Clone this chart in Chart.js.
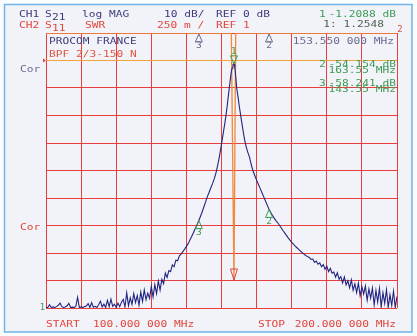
<!DOCTYPE html>
<html><head><meta charset="utf-8">
<script src="https://cdn.jsdelivr.net/npm/chart.js@4.4.0/dist/chart.umd.min.js"></script>
<style>html,body{margin:0;padding:0;background:#f9fafd;}#wrap{width:417px;height:336px;position:relative}</style>
</head><body><div id="wrap"><canvas id="c" width="417" height="336"></canvas></div>
<script>
// CH1 S21 log MAG sweep (MHz) and values (dB)
const sweepMHz = [
100,100.5,101,101.5,102,102.5,103,103.5,104,104.5,105,105.5,106,106.5,107,107.5,108,108.5,109,109.5,
110,110.5,111,111.5,112,112.5,113,113.5,114,114.5,115,115.5,116,116.5,117,117.5,118,118.5,119,119.5,
120,120.5,121,121.5,122,122.5,123,123.5,124,124.5,125,125.5,126,126.5,127,127.5,128,128.5,129,129.5,
130,130.5,131,131.5,132,132.5,133,133.5,134,134.5,135,135.5,136,136.5,137,137.5,138,138.5,139,139.5,
140,140.5,141,141.5,142,142.5,143,143.5,144,144.5,145,145.5,146,146.5,147,147.5,148,148.5,149,149.5,
150,150.5,151,151.5,152,152.5,152.75,153,153.25,153.45,153.6,153.8,154.05,154.35,154.75,155,155.5,
156,156.5,157,157.5,158,158.5,159,159.5,160,160.5,161,161.5,162,162.5,163,163.5,164,164.5,165,165.5,
166,166.5,167,167.5,168,168.5,169,169.5,170,170.5,171,171.5,172,172.5,173,173.5,174,174.5,
175,175.5,176,176.5,177,177.5,178,178.5,179,179.5,180,180.5,181,181.5,182,182.5,183,183.5,184,184.5,
185,185.5,186,186.5,187,187.5,188,188.5,189,189.5,190,190.5,191,191.5,192,192.5,193,193.5,194,194.5,
195,195.5,196,196.5,197,197.5,198,198.5,199,199.5,200];
const s21dB = [
-89.8,-89.8,-88.8,-89.8,-89.6,-89.8,-89.5,-89.0,-88.2,-89.5,-89.8,-89.6,-89.2,-88.3,-89.8,-89.7,-89.8,-89.4,-86.1,-89.8,
-89.6,-89.8,-89.5,-89.3,-88.4,-89.8,-88.0,-89.7,-89.4,-89.8,-88.8,-87.5,-89.6,-88.6,-89.8,-87.2,-89.5,-86.8,-89.4,-88.6,
-89.8,-88.2,-89.5,-87.9,-86.9,-89.6,-84.5,-89.2,-86.3,-88.7,-84.8,-88.0,-85.5,-89.0,-84.2,-87.6,-83.4,-87.0,-84.6,-86.5,
-82.2,-86.0,-81.5,-84.8,-80.2,-83.5,-79.6,-81.2,-77.3,-78.9,-76.4,-76.8,-74.3,-75.0,-72.6,-72.8,-71.0,-70.4,-69.5,-68.6,
-67.6,-66.6,-65.3,-64.0,-62.6,-61.2,-59.8,-58.3,-56.7,-55.0,-53.2,-51.3,-49.4,-47.8,-46.2,-44.6,-42.8,-40.5,-37.6,-34.2,
-30.4,-26.4,-22.4,-17.8,-12.3,-7.0,-4.5,-2.8,-1.7,-1.2,-1.4,-2.6,-5.8,-10.2,-13.6,-16.0,-20.3,
-24.3,-28.3,-31.2,-33.4,-35.2,-38.0,-40.2,-41.9,-43.5,-45.0,-46.5,-48.0,-49.5,-51.0,-52.5,-54.0,-55.2,-56.3,-57.3,-58.2,
-59.0,-59.9,-60.8,-61.8,-62.7,-63.6,-64.5,-65.3,-66.1,-66.8,-67.5,-68.1,-68.7,-69.3,-69.9,-70.4,-70.9,-71.3,
-71.6,-72.3,-72.2,-73.4,-72.9,-74.1,-73.6,-75.0,-74.2,-75.9,-74.8,-76.8,-75.6,-77.3,-76.9,-78.8,-77.2,-79.5,-78.6,-80.9,
-78.7,-81.6,-80.1,-82.7,-79.8,-83.5,-81.2,-84.4,-81.0,-85.6,-82.3,-84.9,-82.0,-87.2,-83.1,-86.4,-82.7,-88.9,-83.6,-87.8,
-82.9,-89.6,-84.4,-88.3,-83.3,-89.8,-85.2,-89.1,-83.9,-89.8,-85.8];

// CH2 S11 SWR trace (off-band values sit at the top of the 250 m/div scale)
const swrMHz = [100, 152.8, 153.55, 154.05, 200];
const swrVal = [3.5, 3.5, 1.2548, 3.5, 3.5];

// Markers
const ch1MkMHz = [153.55, 163.55, 143.55];
const ch1MkdB  = [-1.2088, -54.154, -58.241];
const ch2MkMHz = [153.55, 163.55, 143.55];
const ch2MkSWR = [1.2548, 3.5, 3.5];

const FONT = '8px "DejaVu Sans Mono"';
function T(ctx, s, x, y, col, align, sx) {
  ctx.save(); ctx.translate(x, y); ctx.scale(sx || 1.4, 1);
  ctx.font = FONT; ctx.fillStyle = col; ctx.textBaseline = 'middle';
  ctx.textAlign = align || 'left'; ctx.fillText(s, 0, 0); ctx.restore();
}
function upTri(ctx, x, y, col, lab) {
  ctx.save(); ctx.strokeStyle = col; ctx.lineWidth = 1;
  ctx.beginPath(); ctx.moveTo(x, y); ctx.lineTo(x - 3.5, y + 8); ctx.lineTo(x + 3.5, y + 8); ctx.closePath(); ctx.stroke();
  ctx.restore();
  T(ctx, lab, x, y + 12, col, 'center', 1.2);
}
function downTri(ctx, x, y, col, lab, h) {
  h = h || 9;
  ctx.save(); ctx.strokeStyle = col; ctx.lineWidth = 1;
  ctx.beginPath(); ctx.moveTo(x, y); ctx.lineTo(x - 3.5, y - h); ctx.lineTo(x + 3.5, y - h); ctx.closePath(); ctx.stroke();
  ctx.restore();
  if (lab) T(ctx, lab, x, y - h - 4, col, 'center', 1.2);
}

const deco = {
  id: 'deco',
  beforeDraw(chart) {
    const ctx = chart.ctx;
    ctx.save();
    ctx.fillStyle = '#fbfcfe'; ctx.fillRect(0, 0, 417, 336);
    ctx.fillStyle = '#f2f3f8'; ctx.fillRect(5, 5, 407, 327);
    ctx.strokeStyle = '#6fb4ea'; ctx.lineWidth = 1.5; ctx.strokeRect(4.5, 4.5, 407.5, 327.5);
    ctx.restore();
  },
  afterDraw(chart) {
    const ctx = chart.ctx, xs = chart.scales.x, ys = chart.scales.y, y2 = chart.scales.y2;
    const navy = '#3b3b7c', red = '#e2463c', green = '#3f9a55', gray = '#6a6a90';
    // header
    T(ctx, 'CH1', 19, 15, navy); T(ctx, 'S', 45, 15, navy); T(ctx, '21', 52, 18, navy);
    T(ctx, 'log MAG', 82, 15, navy); T(ctx, '10 dB/', 164, 15, navy); T(ctx, 'REF 0 dB', 216, 15, navy);
    T(ctx, '1', 319, 15, green); T(ctx, '-1.2088 dB', 396, 15, green, 'right');
    T(ctx, 'CH2', 19, 26, red); T(ctx, 'S', 45, 26, red); T(ctx, '11', 52, 29, red);
    T(ctx, 'SWR', 85, 26, red); T(ctx, '250 m /', 157, 26, red); T(ctx, 'REF 1', 216, 26, red);
    T(ctx, '1: 1.2548', 384, 25, '#4d5f50', 'right');
    // inside annotations
    T(ctx, 'PROCOM FRANCE', 49, 41.5, navy);
    T(ctx, 'BPF 2/3-150 N', 49, 55, '#e4553c');
    T(ctx, '153.550 000 MHz', 394, 41.5, gray, 'right');
    T(ctx, '2', 319, 65, green); T(ctx, '-54.154 dB', 396, 65, green, 'right');
    T(ctx, '163.55 MHz', 396, 71, green, 'right');
    T(ctx, '3', 319, 84, green); T(ctx, '-58.241 dB', 396, 84, green, 'right');
    T(ctx, '143.55 MHz', 396, 90, green, 'right');
    T(ctx, 'Cor', 20, 70, gray); T(ctx, 'Cor', 20, 228, red);
    T(ctx, 'START', 46, 325, red); T(ctx, '100.000 000 MHz', 93, 325, red);
    T(ctx, 'STOP', 258, 325, red); T(ctx, '200.000 000 MHz', 396, 325, red, 'right');
    // reference pointers
    T(ctx, '1', 45, 308, green, 'right', 1.1);
    ctx.save(); ctx.fillStyle = red; ctx.beginPath();
    const r0 = ys.getPixelForValue(0);
    ctx.moveTo(43, r0 - 2); ctx.lineTo(46, r0); ctx.lineTo(43, r0 + 2); ctx.closePath(); ctx.fill(); ctx.restore();
    T(ctx, '2', 400, 30, red, 'center', 1.1);
    // CH2 markers
    for (let i = 1; i < 3; i++) upTri(ctx, xs.getPixelForValue(ch2MkMHz[i]), y2.getPixelForValue(ch2MkSWR[i]) + 1, gray, String(i + 1));
    downTri(ctx, xs.getPixelForValue(ch2MkMHz[0]), y2.getPixelForValue(ch2MkSWR[0]), '#d8453c', null, 11);
    // CH1 markers
    for (let i = 1; i < 3; i++) upTri(ctx, xs.getPixelForValue(ch1MkMHz[i]), ys.getPixelForValue(ch1MkdB[i]), green, String(i + 1));
    downTri(ctx, xs.getPixelForValue(ch1MkMHz[0]), ys.getPixelForValue(ch1MkdB[0]), green, '1', 8);
  }
};

new Chart(document.getElementById('c'), {
  type: 'line',
  data: { datasets: [
    { label: 'CH1 S21', data: sweepMHz.map((f, i) => ({ x: f, y: s21dB[i] })), yAxisID: 'y',
      borderColor: '#222482', borderWidth: 1.1, pointRadius: 0, tension: 0 },
    { label: 'CH2 S11', data: swrMHz.map((f, i) => ({ x: f, y: swrVal[i] })), yAxisID: 'y2',
      borderColor: '#ef8a3c', borderWidth: 1.3, pointRadius: 0, tension: 0 }
  ]},
  options: {
    responsive: false, animation: false, devicePixelRatio: 1,
    layout: { padding: { left: 46, right: 20, top: 33, bottom: 28 } },
    plugins: { legend: { display: false }, tooltip: { enabled: false } },
    scales: {
      x: { type: 'linear', min: 100, max: 200, ticks: { display: false, stepSize: 10 },
           grid: { color: '#ea3d3d', lineWidth: 1, drawTicks: false }, border: { display: false } },
      y: { type: 'linear', min: -90, max: 10, ticks: { display: false, stepSize: 10 },
           grid: { color: c => (c.tick && c.tick.value === 0) ? '#f1a33c' : '#ea3d3d', lineWidth: 1, drawTicks: false },
           border: { display: false } },
      y2: { type: 'linear', display: false, min: 1, max: 3.5 }
    }
  },
  plugins: [deco]
});
</script></body></html>
